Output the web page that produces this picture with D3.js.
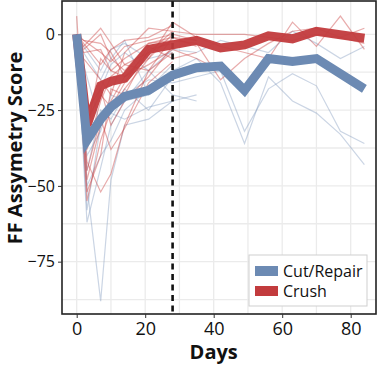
<!DOCTYPE html>
<html>
<head>
<meta charset="utf-8">
<script src="https://cdn.jsdelivr.net/npm/d3@7"></script>
<style>
  body { margin: 0; background: #fff; }
  text { font-family: "Open Sans", "DejaVu Sans", sans-serif; fill: #111; }
</style>
</head>
<body>
<div id="chart"></div>
<script>
var width = 379,
    height = 366,
    margin = {top: 1, right: 3, bottom: 52, left: 62};

// days for the individual animals (null = not measured)
var days = [0, 2, 3, 7, 10, 14, 21, 28, 35, 42, 49, 56, 63, 70, 77, 84];

var crushAnimals = [
  [6, null, -48, -30, -22, -14, -6, -2, null, null, null, null, null, null, null, null],
  [0, null, -32, -8, -12, -14, -8, 4, -1, -4, -6, -8, 4, -4, 6, -5],
  [0, -4, null, 2, -3, -10, -6, 1, 0, 0, 0, -1, -2, 0, -1, -3],
  [0, -6, null, -5, -12, -8, -3, -2, -3, -15, -8, -3, 1, 2, -1, 2],
  [0, null, -42, -52, -46, -30, -12, -6, null, null, null, null, null, null, null, null],
  [0, null, -55, -35, -25, -18, -8, 0, -2, null, null, null, null, null, null, null],
  [0, -3, null, -10, -5, -2, -1, 3, null, null, null, null, null, null, null, null],
  [0, null, -28, -20, -24, -16, -4, -8, -6, null, null, null, null, null, null, null],
  [0, -8, null, -15, -20, -6, 2, 1, null, null, null, null, null, null, null, null],
  [0, null, -38, -22, -14, -10, -12, -1, -2, null, null, null, null, null, null, null],
  [0, null, -52, -40, -18, -20, -5, -3, null, null, null, null, null, null, null, null],
  [0, -2, null, -3, -6, -14, -10, -5, -8, -12, null, null, null, null, null, null],
  [0, null, -25, -18, -30, -22, -14, -4, null, null, null, null, null, null, null, null],
  [0, null, -45, -28, -38, -31, -16, -9, null, null, null, null, null, null, null, null],
  [0, -2, null, -6, -9, -4, -2, 0, null, null, null, null, null, null, null, null],
  [0, -5, null, 0, -8, -12, -3, -1, -4, null, null, null, null, null, null, null]
];

var cutAnimals = [
  [0, null, -50, -88, -48, -30, -28, -22, null, null, null, null, null, null, null, null],
  [0, null, -62, -44, -30, -22, -20, -12, -8, -16, -36, -14, -22, -26, -33, -43],
  [0, null, -45, -25, -28, -20, -15, -16, -14, -12, -32, -18, -13, -17, -32, -36],
  [0, null, -30, -18, -10, -6, -12, -20, -22, null, null, null, null, null, null, null],
  [0, null, -40, -32, -20, -22, -12, -5, -6, -2, -4, -6, 1, -3, -8, -4],
  [0, null, -58, -30, -25, -18, -25, -14, -10, null, null, null, null, null, null, null],
  [0, -6, null, -15, -8, -2, -20, -15, null, null, null, null, null, null, null, null],
  [0, null, -50, -40, -35, -25, -18, -10, null, null, null, null, null, null, null, null],
  [0, -10, null, -30, -26, -28, -24, -22, -20, null, null, null, null, null, null, null],
  [0, -4, null, -12, -5, -3, -8, -6, null, null, null, null, null, null, null, null]
];

// group means
var meanDays = [0, 3, 7, 10, 14, 21, 28, 35, 42, 49, 56, 63, 70, 84];
var cutMean = [0, -35, -28, -24, -20.5, -18.5, -13.5, -11, -10.5, -18.5, -8, -9, -8, -18];
var crushMean = [0, -30, -17, -15.5, -14.5, -5, -3.5, -2, -4.5, -3.5, -0.5, -1.5, 1, -1.3];

var xTicks = [0, 20, 40, 60, 80],
    yTicks = [0, -25, -50, -75],
    injuryDay = 28;

var seriesNames = ["Cut/Repair", "Crush"],
    colors = {"Cut/Repair": "#6c8ab3", "Crush": "#c23b3d"},
    thinColors = {"Cut/Repair": "rgba(130,155,190,0.42)", "Crush": "rgba(205,70,72,0.45)"};

var x = d3.scaleLinear().domain([-4.29, 87.39]).range([margin.left, width - margin.right]);
var y = d3.scaleLinear().domain([-92.26, 10.98]).range([height - margin.bottom, margin.top]);

var svg = d3.select("#chart").append("svg")
    .attr("width", width)
    .attr("height", height);

svg.append("clipPath").attr("id", "clip")
  .append("rect")
    .attr("x", margin.left).attr("y", margin.top)
    .attr("width", width - margin.left - margin.right)
    .attr("height", height - margin.top - margin.bottom);

// grid, major + minor
var grid = svg.append("g");
grid.selectAll(".vg")
    .data(d3.range(0, 90, 10))
  .enter().append("line")
    .attr("x1", function(d) { return x(d); })
    .attr("x2", function(d) { return x(d); })
    .attr("y1", margin.top)
    .attr("y2", height - margin.bottom)
    .attr("stroke", "#ebebeb")
    .attr("stroke-width", 1.3);
grid.selectAll(".hg")
    .data(d3.range(0, -100, -12.5))
  .enter().append("line")
    .attr("x1", margin.left)
    .attr("x2", width - margin.right)
    .attr("y1", function(d) { return y(d); })
    .attr("y2", function(d) { return y(d); })
    .attr("stroke", "#ebebeb")
    .attr("stroke-width", 1.3);

function points(vals, dd) {
  var pts = [];
  vals.forEach(function(v, i) { if (v !== null) pts.push([dd[i], v]); });
  return pts;
}

var line = d3.line()
    .x(function(d) { return x(d[0]); })
    .y(function(d) { return y(d[1]); });

var plot = svg.append("g").attr("clip-path", "url(#clip)");

plot.selectAll(".cutThin")
    .data(cutAnimals)
  .enter().append("path")
    .attr("d", function(d) { return line(points(d, days)); })
    .attr("fill", "none")
    .attr("stroke", thinColors["Cut/Repair"])
    .attr("stroke-width", 1.2);

plot.selectAll(".crushThin")
    .data(crushAnimals)
  .enter().append("path")
    .attr("d", function(d) { return line(points(d, days)); })
    .attr("fill", "none")
    .attr("stroke", thinColors["Crush"])
    .attr("stroke-width", 1.2);

plot.append("line")
    .attr("x1", x(injuryDay)).attr("x2", x(injuryDay))
    .attr("y1", margin.top).attr("y2", height - margin.bottom)
    .attr("stroke", "#111")
    .attr("stroke-width", 2.6)
    .attr("stroke-dasharray", "6,4.5");

plot.append("path")
    .attr("d", line(points(crushMean, meanDays)))
    .attr("fill", "none")
    .attr("stroke", colors["Crush"])
    .attr("stroke-width", 9)
    .attr("stroke-linejoin", "miter")
    .attr("stroke-opacity", 0.95);

plot.append("path")
    .attr("d", line(points(cutMean, meanDays)))
    .attr("fill", "none")
    .attr("stroke", colors["Cut/Repair"])
    .attr("stroke-width", 9)
    .attr("stroke-linejoin", "miter");

// panel border
svg.append("rect")
    .attr("x", margin.left).attr("y", margin.top)
    .attr("width", width - margin.left - margin.right)
    .attr("height", height - margin.top - margin.bottom)
    .attr("fill", "none")
    .attr("stroke", "#222")
    .attr("stroke-width", 1.6);

// axes
var xAxis = svg.append("g")
    .attr("transform", "translate(0," + (height - margin.bottom) + ")")
    .call(d3.axisBottom(x).tickValues(xTicks).tickSize(4).tickPadding(4));
var yAxis = svg.append("g")
    .attr("transform", "translate(" + margin.left + ",0)")
    .call(d3.axisLeft(y).tickValues(yTicks).tickSize(4).tickPadding(3));

[xAxis, yAxis].forEach(function(a) {
  a.select(".domain").remove();
  a.selectAll(".tick line").attr("stroke", "#333");
  a.selectAll("text").attr("fill", "#111").style("font-family", '"Open Sans", sans-serif');
});
xAxis.selectAll("text").style("font-size", "18px");
yAxis.selectAll("text").style("font-size", "16px");

svg.append("text")
    .attr("x", x(40))
    .attr("y", 359)
    .attr("text-anchor", "middle")
    .style("font-size", "20px")
    .style("font-weight", "bold")
    .text("Days");

svg.append("text")
    .attr("transform", "translate(22,148) rotate(-90)")
    .attr("text-anchor", "middle")
    .style("font-size", "20px")
    .style("font-weight", "bold")
    .text("FF Assymetry Score");

// legend
var legend = svg.append("g").attr("transform", "translate(249,255)");
legend.append("rect")
    .attr("width", 118).attr("height", 51)
    .attr("fill", "#fff")
    .attr("stroke", "#cfcfcf")
    .attr("stroke-width", 1);
var item = legend.selectAll(".item")
    .data(seriesNames)
  .enter().append("g")
    .attr("transform", function(d, i) { return "translate(6," + (11 + i * 20) + ")"; });
item.append("rect")
    .attr("width", 23).attr("height", 10)
    .attr("fill", function(d) { return colors[d]; });
item.append("text")
    .attr("x", 28).attr("y", 11)
    .style("font-size", "16px")
    .text(function(d) { return d; });
</script>
</body>
</html>
